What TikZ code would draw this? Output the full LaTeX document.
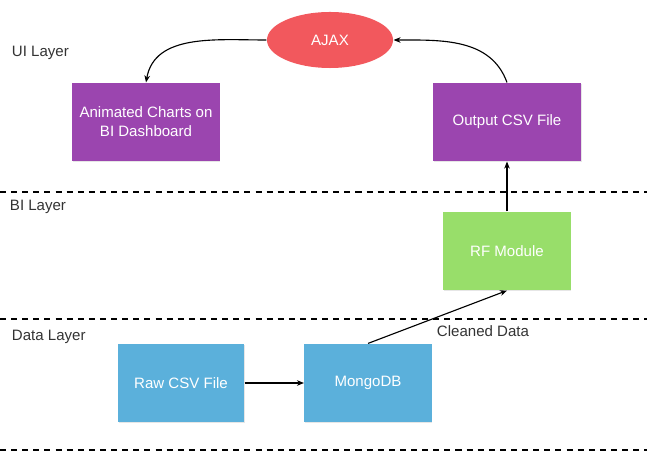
\documentclass[tikz,border=0pt]{standalone}
\usepackage{fontspec}
\setmainfont{Liberation Sans}
\usetikzlibrary{
    arrows.meta,
    positioning,
    shapes.geometric,
    shadows
}
\definecolor{ajaxred}{HTML}{F2585D}
\definecolor{uipurple}{HTML}{9B45AF}
\definecolor{bigreen}{HTML}{98DE6A}
\definecolor{datablue}{HTML}{5BB0DB}
\definecolor{labelgray}{HTML}{333333}
\tikzset{
    every picture/.style = {
        > = {Stealth[length = 5pt, width = 4pt]},
        line width = 0.8pt
    },
    every node/.style = {
        inner sep = 1pt,
        align = center,
        font = \fontsize{10.7}{13.5}\selectfont
    },
    block/.style = {
        rectangle,
        text = white,
        minimum height = 1.95cm,
        drop shadow = {opacity = 0.2, shadow xshift = 0.5pt, shadow yshift = -0.8pt}
    },
    layertext/.style = {
        text = labelgray,
        anchor = west
    },
    layerline/.style = {
        line width = 1.4pt,
        dash pattern = on 4.3pt off 3.6pt
    }
}

\begin{document}
\begin{tikzpicture}[x = 0.025cm, y = -0.025cm]
    \useasboundingbox (0, 0) rectangle (647, 452);

    % layers
    \draw[layerline] (0, 192) -- (647, 192);
    \draw[layerline] (0, 319) -- (647, 319);
    \draw[layerline] (0, 450) -- (647, 450);
    \node[layertext] (ui)   at (10, 53)  {UI Layer};
    \node[layertext] (bi)   at (8, 207)  {BI Layer};
    \node[layertext] (data) at (10, 337) {Data Layer};

    % nodes
    \node[ellipse, fill = ajaxred, text = white, minimum width = 3.15cm, minimum height = 1.4cm] (ajax) at (330, 40) {AJAX};
    \node[block, fill = uipurple, minimum width = 3.675cm] (charts) at (146, 122) {Animated Charts on \\ BI Dashboard};
    \node[block, fill = uipurple, minimum width = 3.7cm] (out) at (507, 122) {Output CSV File};
    \node[block, fill = bigreen, minimum width = 3.175cm] (rf) at (507, 251) {RF Module};
    \node[block, fill = datablue, minimum width = 3.15cm] (raw) at (181, 383) {Raw CSV File};
    \node[block, fill = datablue, minimum width = 3.175cm] (mongo) at (368, 383) {MongoDB};
    \node[text = labelgray] (cleaned) at (483, 331) {Cleaned Data};

    % connectors
    \draw[->] (raw) -- (mongo);
    \draw[->] (mongo.north) -- (rf.south);
    \draw[->] (rf.north) -- (out.south);
    \draw[->] (out.north) to[out = 110, in = 0] (ajax.east);
    \draw[->] (ajax.west) to[out = 180, in = 80] (charts.north);
\end{tikzpicture}
\end{document}
